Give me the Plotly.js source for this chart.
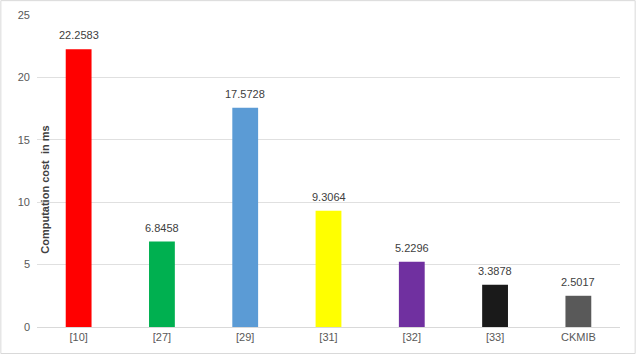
<!DOCTYPE html>
<html><head><meta charset="utf-8">
<script src="https://cdn.plot.ly/plotly-3.0.1.min.js"></script>
<style>html,body{margin:0;padding:0;background:#fff}#chart{width:636px;height:354px}</style>
</head><body><div id="chart"></div>
<script>
const categories = ["[10]", "[27]", "[29]", "[31]", "[32]", "[33]", "CKMIB"];
const values = [22.2583, 6.8458, 17.5728, 9.3064, 5.2296, 3.3878, 2.5017];
const labels = ["22.2583", "6.8458", "17.5728", "9.3064", "5.2296", "3.3878", "2.5017"];
const colors = ["#FF0000", "#00B050", "#5B9BD5", "#FFFF00", "#7030A0", "#1A1A1A", "#595959"];
const yTicks = [0, 5, 10, 15, 20, 25];

const fontFam = "Liberation Sans, Arial, sans-serif";
const trace = {
  type: "bar", x: categories, y: values, marker: {color: colors}, hoverinfo: "none"
};
const valueNotes = categories.map((c, i) => ({
  x: c, y: values[i], xref: "x", yref: "y", text: labels[i], showarrow: false,
  yanchor: "bottom", yshift: 6, font: {family: fontFam, size: 11, color: "#404040"}
}));
const layout = {
  width: 636, height: 354,
  margin: {l: 37, r: 16, t: 15, b: 27},
  paper_bgcolor: "#fff", plot_bgcolor: "#fff",
  bargap: 0.69, showlegend: false,
  font: {family: fontFam, size: 11, color: "#595959"},
  xaxis: {type: "category", showgrid: false, showline: true, linecolor: "#D9D9D9", linewidth: 1,
          ticks: "", tickfont: {size: 11, color: "#595959"}, ticklen: 0},
  yaxis: {range: [0, 25], tickvals: yTicks, showgrid: true, gridcolor: "#E0E0E0", zeroline: false,
          showline: false, ticks: "", tickfont: {size: 11, color: "#595959"}, ticklabelstandoff: 6},
  annotations: valueNotes.concat([{text: "<b>Computation cost  in ms</b>", xref: "paper", yref: "paper",
    x: -0.0, xanchor: "center", xshift: 8, y: 0.44, yanchor: "middle", textangle: -90, showarrow: false,
    font: {family: fontFam, size: 11, color: "#404040"}}]),
  shapes: [{type: "rect", xref: "paper", yref: "paper", x0: -0.062, x1: 1.026, y0: -0.085, y1: 1.046,
    line: {color: "#D9D9D9", width: 1}}]
};
Plotly.newPlot("chart", [trace], layout, {staticPlot: true});
</script></body></html>
